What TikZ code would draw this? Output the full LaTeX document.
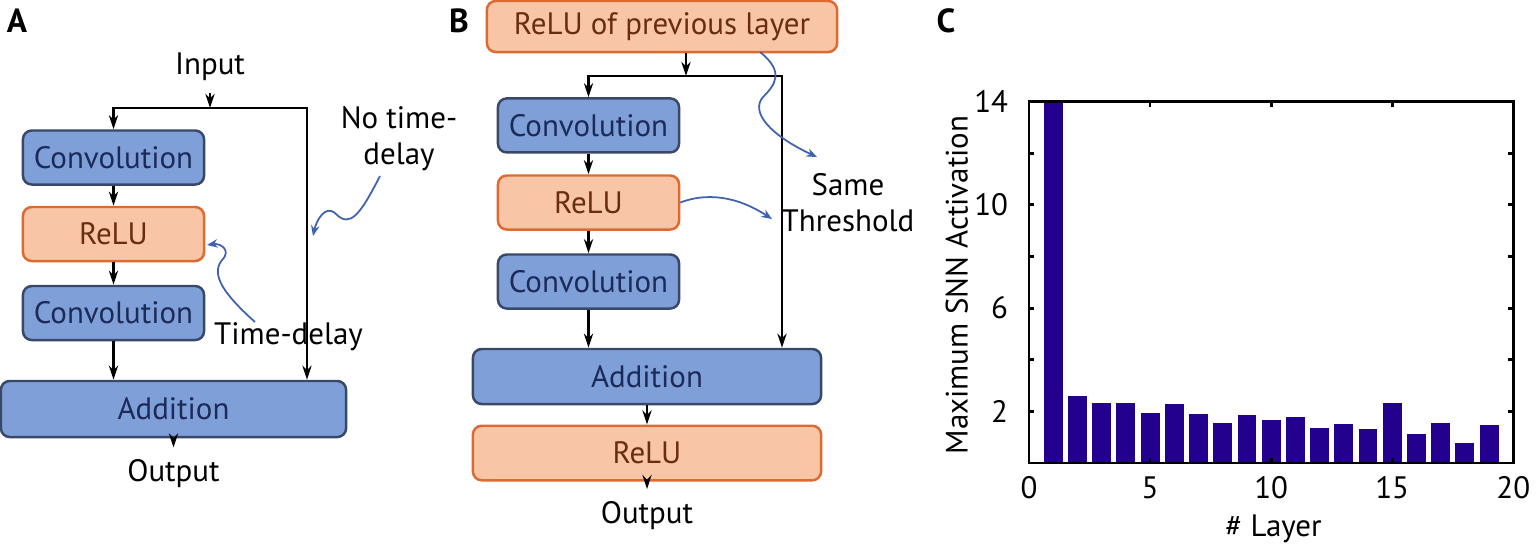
\documentclass[tikz,border=0pt]{standalone}
\usepackage{fontspec}
\setmainfont{PT Sans}
\usetikzlibrary{arrows.meta}

\definecolor{convfill}{HTML}{7F9FD9}
\definecolor{convline}{HTML}{3A4868}
\definecolor{convtext}{HTML}{1C2A58}
\definecolor{relufill}{HTML}{F8C6A6}
\definecolor{reluline}{HTML}{DD6A30}
\definecolor{relutext}{HTML}{6A2C10}
\definecolor{notecol}{HTML}{3F62AE}
\definecolor{barcol}{HTML}{24008F}

\tikzset{
  convbox/.style={draw=convline, fill=convfill, text=convtext, rounded corners=2.5pt,
    line width=0.7pt, minimum width=1.81cm, minimum height=0.54cm, inner sep=0pt},
  relubox/.style={convbox, draw=reluline, fill=relufill, text=relutext},
  flow/.style={line width=0.8pt, -{Stealth[length=4pt,width=2.6pt]}},
  note/.style={notecol, line width=0.5pt, -{Stealth[length=3pt,width=2.4pt]}},
  panel/.style={font=\fontsize{9.5}{11}\selectfont\bfseries},
}

\begin{document}
\begin{tikzpicture}[x=0.01cm, y=-0.01cm, font=\fontsize{8.8}{10.3}\selectfont]
    \useasboundingbox (0,0) rectangle (1536,550);

    % Panel A: residual block with a time-delayed branch
    \node[panel] (labA) at (17,21) {A};
    \node (inA) at (210,67) {Input};
    \coordinate (jA) at (210,108);
    \coordinate (rA) at (307,108);
    \node[convbox] (convA1) at (113.5,157.5) {Convolution};
    \node[relubox] (reluA) at (113.5,234) {ReLU};
    \node[convbox] (convA2) at (113.5,313) {Convolution};
    \node[convbox, minimum width=3.45cm, minimum height=0.56cm] (addA) at (173.5,409) {Addition};
    \node (outA) at (173.5,474) {Output};

    \draw[flow] (inA) -- (jA);
    \draw[flow] (jA) -| (convA1.north);
    \draw[flow] (jA) -- (rA) -- (rA |- addA.north);
    \draw[flow] (convA1) -- (reluA);
    \draw[flow] (reluA) -- (convA2);
    \draw[flow] (convA2) -- (convA2 |- addA.north);
    \draw[flow] (addA) -- (outA);

    % Annotations of panel A
    \node[align=center] (ntA) at (399,139) {No time-\\delay};
    \node (tdA) at (288.5,337) {Time-delay};
    \coordinate (ntAs) at (380,176);
    \coordinate (ntAe) at (313,236);
    \coordinate (tdAs) at (255,322);
    \coordinate (tdAe) at (207,245);
    \draw[note] (ntAs) .. controls (360,215) and (350,228) .. (336,214)
                       .. controls (325,203) and (316,222) .. (ntAe);
    \draw[note] (tdAs) .. controls (225,295) and (210,275) .. (222,260)
                       .. controls (232,250) and (220,243) .. (tdAe);

    % Panel B: residual block with shared thresholds
    \node[panel] (labB) at (459,21) {B};
    \node[relubox, minimum width=3.5cm, minimum height=0.51cm] (prevB) at (662,26.5) {ReLU of previous layer};
    \coordinate (jB) at (686,76);
    \coordinate (rB) at (782,76);
    \node[convbox] (convB1) at (588.5,125.4) {Convolution};
    \node[relubox] (reluB1) at (588.5,202.5) {ReLU};
    \node[convbox] (convB2) at (588.5,281.5) {Convolution};
    \node[convbox, minimum width=3.48cm, minimum height=0.55cm] (addB) at (647,376.5) {Addition};
    \node[relubox, minimum width=3.48cm, minimum height=0.545cm] (reluB2) at (647,453) {ReLU};
    \node (outB) at (647,515.6) {Output};

    \draw[flow] (jB |- prevB.south) -- (jB);
    \draw[flow] (jB) -| (convB1.north);
    \draw[flow] (jB) -- (rB) -- (rB |- addB.north);
    \draw[flow] (convB1) -- (reluB1);
    \draw[flow] (reluB1) -- (convB2);
    \draw[flow] (convB2) -- (convB2 |- addB.north);
    \draw[flow] (addB) -- (reluB2);
    \draw[flow] (reluB2) -- (outB);

    % Annotations of panel B
    \node[align=center] (stB) at (848,203) {Same\\Threshold};
    \coordinate (stB1s) at (760,52);
    \coordinate (stB1e) at (817,157);
    \coordinate (stB2e) at (772,219);
    \draw[note] (stB1s) .. controls (785,72) and (775,85) .. (763,97)
                        .. controls (750,112) and (770,135) .. (stB1e);
    \draw[note] (reluB1.east) .. controls (705,193) and (735,195) .. (stB2e);

    % Panel C: maximum activation per layer
    \node[panel] (labC) at (946,21) {C};
    \begin{scope}[shift={(1029,463)}, x=0.242cm, y=0.258cm]
        \foreach \k/\v in {1/14, 2/2.6, 3/2.33, 4/2.33, 5/1.93, 6/2.27, 7/1.89, 8/1.55,
                           9/1.86, 10/1.68, 11/1.79, 12/1.36, 13/1.52, 14/1.30, 15/2.33,
                           16/1.11, 17/1.55, 18/0.77, 19/1.49}
            \fill[barcol] (\k-0.39,0) rectangle (\k+0.39,\v);
        \draw[line width=0.8pt] (0,0) rectangle (20,14);
        \foreach \t in {2,4,...,14} {
            \draw[line width=0.8pt] (0,\t) -- (0.2,\t);
            \draw[line width=0.8pt] (20,\t) -- (19.8,\t);
        }
        \foreach \t in {5,10,15} {
            \draw[line width=0.8pt] (\t,0) -- (\t,0.2);
            \draw[line width=0.8pt] (\t,14) -- (\t,13.8);
        }
        \foreach \t in {0,5,...,20}
            \node at (\t,-0.95) {\t};
        \foreach \t in {2,6,10,14}
            \node[anchor=east] at (-0.35,\t) {\t};
        \node[rotate=90] (ylab) at (-2.98,6.9) {Maximum SNN Activation};
        \node (xlab) at (10.1,-2.55) {\# Layer};
    \end{scope}

\end{tikzpicture}
\end{document}
